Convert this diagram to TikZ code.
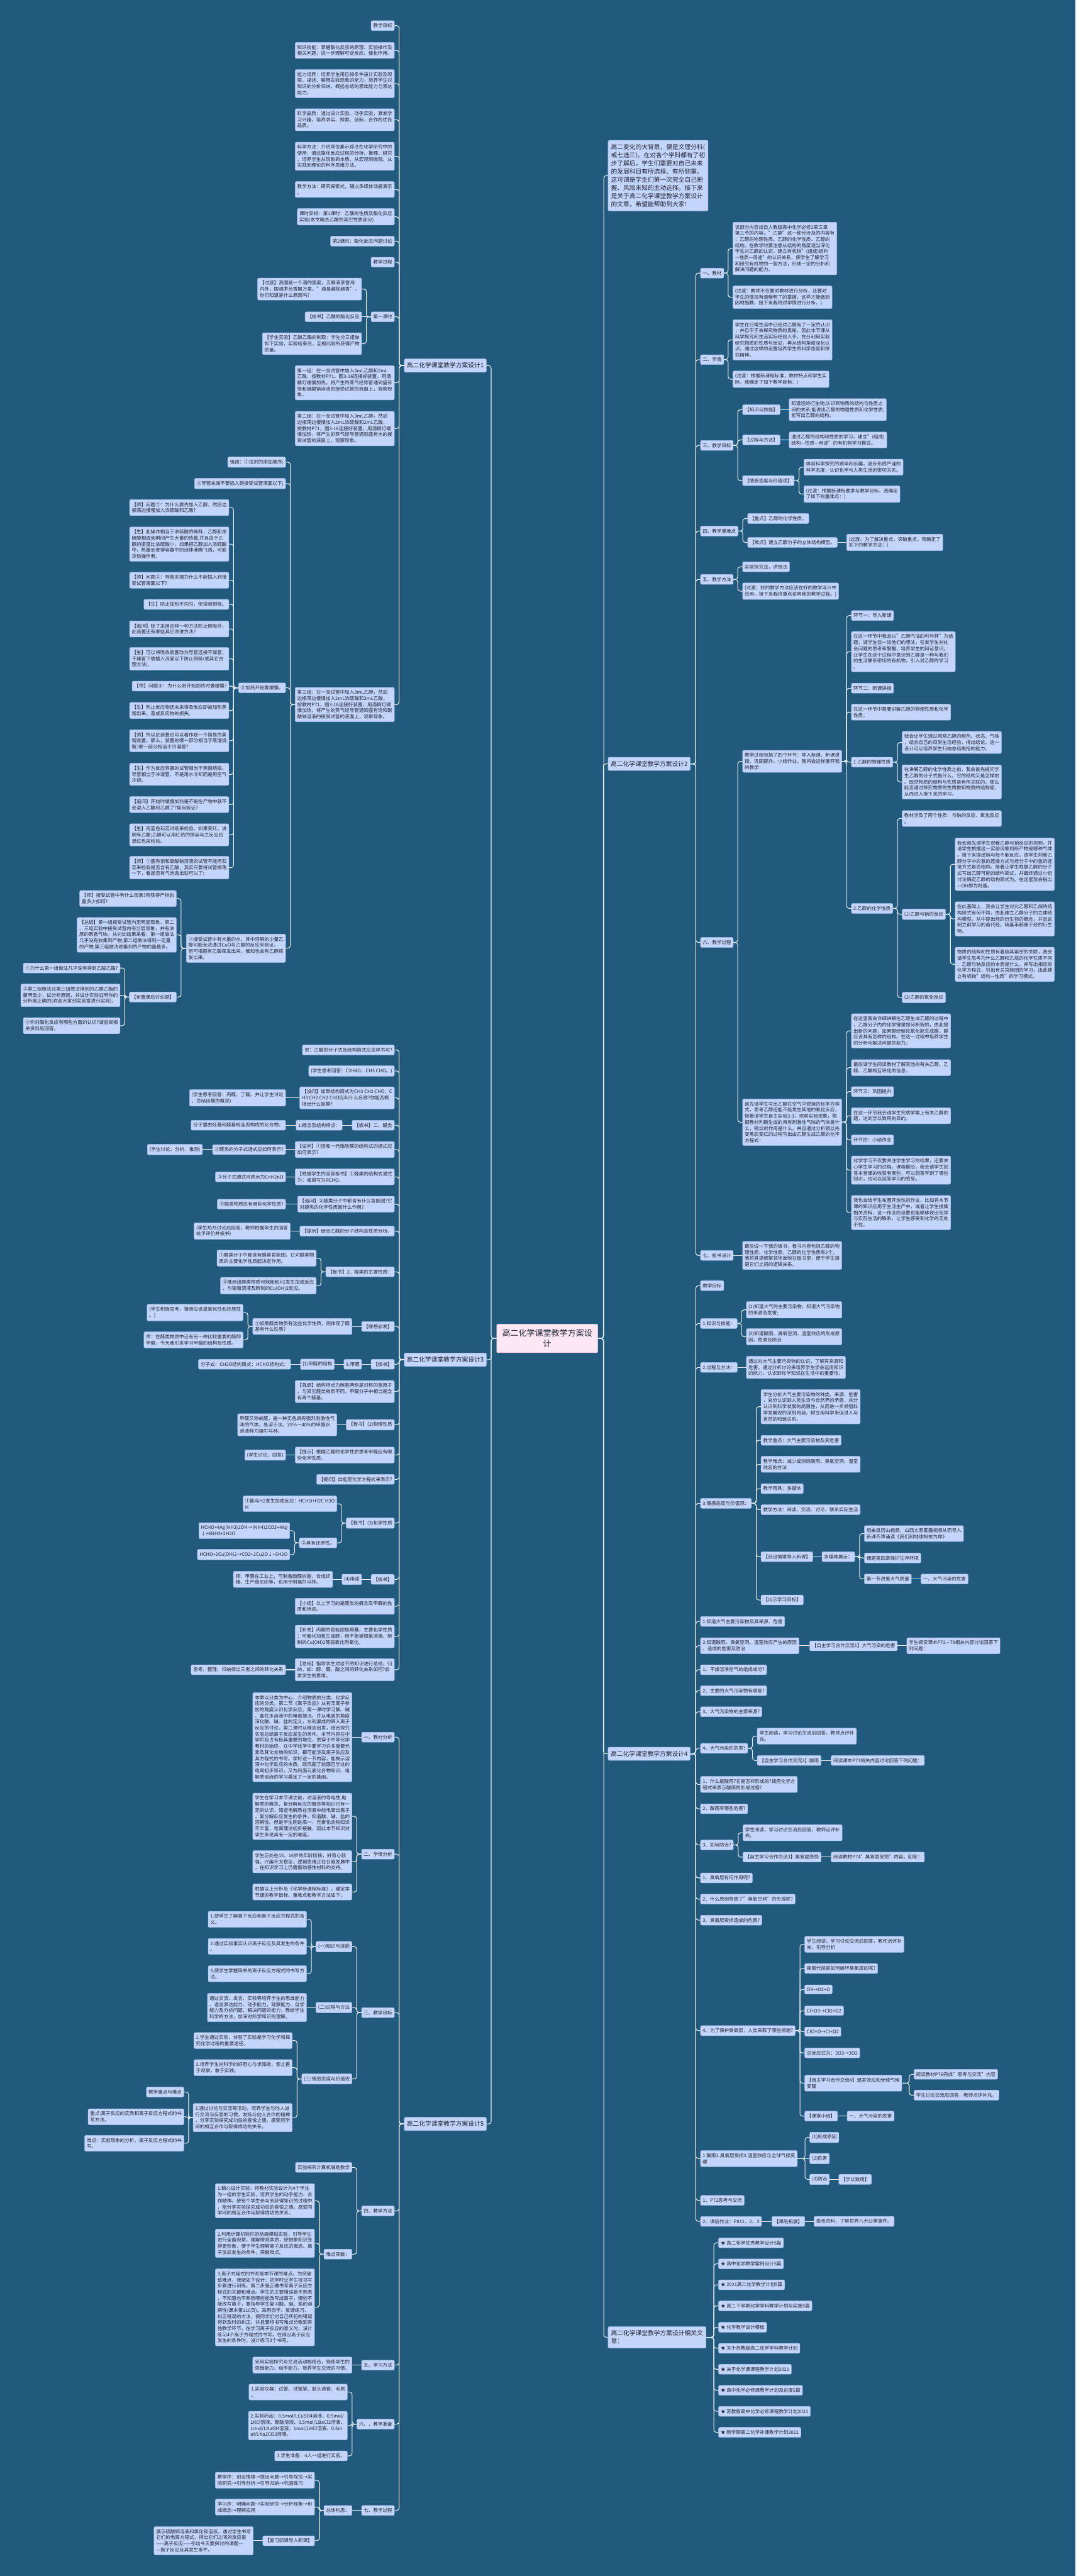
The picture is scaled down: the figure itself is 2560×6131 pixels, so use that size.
\documentclass[tikz,border=0pt]{standalone}
\usepackage{fontspec}
\setmainfont{Noto Sans CJK SC}
\definecolor{bg}{HTML}{225A7D}
\definecolor{boxf}{HTML}{C3D5FA}
\definecolor{boxd}{HTML}{A9C0F0}
\definecolor{rootf}{HTML}{FDE7F4}
\definecolor{rootd}{HTML}{EFC3DF}
\definecolor{lnc}{HTML}{E9EFF5}
\definecolor{txt}{HTML}{1F2233}
\newcommand\fs{\fontsize{11.3pt}{14.5pt}\selectfont}
\newcommand\fm{\fontsize{14.6pt}{19.4pt}\selectfont}
\newcommand\fr{\fontsize{19.5pt}{26pt}\selectfont}
\tikzset{
 bx/.style={draw=boxd, fill=boxf, line width=0.8pt, rounded corners=3pt, inner xsep=5pt, inner ysep=6.5pt, font=\fs, align=left, text=txt},
 bl/.style={bx, anchor=east},
 br/.style={bx, anchor=west},
 mb/.style={font=\fm, inner xsep=6pt, inner ysep=9pt},
 rb/.style={draw=rootd, fill=rootf, line width=0.8pt, rounded corners=3pt, font=\fr, align=center, text=txt, inner xsep=13pt, inner ysep=12pt},
 lk/.style={draw=lnc, line width=1.6pt, rounded corners=6pt},
}
\newcommand\cnL[2]{\draw[lk] (#1.west) -| ([xshift=11pt]#2.east) -- (#2.east);}
\newcommand\cnR[2]{\draw[lk] (#1.east) -| ([xshift=-11pt]#2.west) -- (#2.west);}
\newcommand\chL[2]{\draw[lk] (#1.west) -- (#2.east);}
\newcommand\chR[2]{\draw[lk] (#1.east) -- (#2.west);}
\begin{document}
\begin{tikzpicture}[x=1pt,y=-1pt]
\fill[bg] (0,0) rectangle (2560,6131);
\useasboundingbox (0,0) rectangle (2560,6131);
% root
\node[rb] (root) at (1302.5,3185.5) {高二化学课堂教学方案设\\计};
% ===== design 1 =====
\node[bl,mb] (d1) at (1158,870) {高二化学课堂教学方案设计1};
\node[bl] (a1) at (939,61) {教学目标};
\node[bl] (a2) at (939,120) {知识技能：掌握酯化反应的原理、实验操作及\\相关问题，进一步理解可逆反应、催化作用。};
\node[bl] (a3) at (939,199) {能力培养：培养学生用已知条件设计实验及观\\察、描述、解释实验现象的能力，培养学生对\\知识的分析归纳、概括总结的思维能力与表达\\能力。};
\node[bl] (a4) at (939,285) {科学品质：通过设计实验、动手实验，激发学\\习兴趣，培养求实、探索、创新、合作的优良\\品质。};
\node[bl] (a5) at (939,372) {科学方法：介绍同位素示踪法在化学研究中的\\使用，通过酯化反应过程的分析、推理、研究\\，培养学生从现象到本质、从宏观到微观、从\\实践到理论的科学思维方法。};
\node[bl] (a6) at (939,451) {教学方法：研究探索式，辅以多媒体动画演示\\。};
\node[bl] (a7) at (939,516) {课时安排：第1课时：乙酸的性质及酯化反应\\实验(本文略去乙酸的其它性质部分)};
\node[bl] (a8) at (939,574) {第2课时：酯化反应问题讨论};
\node[bl] (a9) at (939,624) {教学过程};
\node[bl] (a10) at (939,754) {第一课时};
\node[bl] (a10a) at (861,688) {【过渡】我国是一个酒的国度，五粮液享誉海\\内外，国酒茅台香飘万里。"酒是越陈越香"。\\你们知道是什么原因吗?};
\node[bl] (a10b) at (861,754) {【板书】乙酸的酯化反应};
\node[bl] (a10c) at (861,818) {【学生实验】乙酸乙酯的制取：学生分三组做\\如下实验，实验结束后，互相比较所获得产物\\的量。};
\node[bl] (a11) at (939,911) {第一组：在一支试管中加入3mL乙醇和2mL\\乙酸，按教材P71，图3-16连接好装置，用酒\\精灯缓慢加热，将产生的蒸气经导管通到盛有\\饱和碳酸钠溶液的接受试管的液面上，观察现\\象。};
\node[bl] (a12) at (939,1020) {第二组：在一支试管中加入3mL乙醇，然后\\边振荡边慢慢加入2mL浓硫酸和2mL乙酸，\\按教材P71，图3-16连接好装置，用酒精灯缓\\慢加热，将产生的蒸气经导管通到盛有水的接\\受试管的液面上，观察现象。};
\node[bl] (a13) at (939,1677) {第三组：在一支试管中加入3mL乙醇，然后\\边振荡边慢慢加入2mL浓硫酸和2mL乙酸，\\按教材P71，图3-16连接好装置，用酒精灯缓\\慢加热，将产生的蒸气经导管通到盛有饱和碳\\酸钠溶液的接受试管的液面上，观察现象。};
\node[bl] (a13a) at (680,1100) {强调：①试剂的添加顺序;};
\node[bl] (a13b) at (680,1151) {②导管末端不要插入到接受试管液面以下;};
\node[bl] (a13c) at (680,1637) {③加热开始要缓慢。};
\node[bl] (a13d) at (680,2257) {②接受试管中有大量的水，其中溶解的少量乙\\醇可能无法通过CuO与乙醇的反应来验证，\\但可根据有乙酸挥发出来，推知也会有乙醇挥\\发出来。};
\node[bl] (q1) at (545,1208) {【师】问题①：为什么要先加入乙醇，然后边\\振荡边慢慢加入浓硫酸和乙酸?};
\node[bl] (q2) at (545,1295) {【生】此操作相当于浓硫酸的稀释，乙醇和浓\\硫酸相混会瞬间产生大量的热量,并且由于乙\\醇的密度比浓硫酸小，如果把乙醇加入浓硫酸\\中，热量会使得容器中的液体沸腾飞溅，可能\\烫伤操作者。};
\node[bl] (q3) at (545,1381) {【师】问题②：导管末端为什么不能插入到接\\受试管液面以下?};
\node[bl] (q4) at (545,1438.5) {【生】防止加热不均匀，使溶液倒吸。};
\node[bl] (q5) at (545,1497) {【追问】除了采用这样一种方法防止倒吸外，\\此装置还有哪些其它改进方法?};
\node[bl] (q6) at (545,1568) {【生】可以将吸收装置改为导管连接干燥管，\\干燥管下端插入液面以下防止倒吸(或其它合\\理方法)。};
\node[bl] (q7) at (545,1633) {【师】问题③：为什么刚开始加热时要缓慢?};
\node[bl] (q8) at (545,1691) {【生】防止反应物还未来得及反应即被加热蒸\\馏出来，造成反应物的损失。};
\node[bl] (q9) at (545,1763) {【师】所以此装置也可以看作是一个简易的蒸\\馏装置，那么，装置的哪一部分相当于蒸馏烧\\瓶?哪一部分相当于冷凝管?};
\node[bl] (q10) at (545,1843) {【生】作为反应容器的试管相当于蒸馏烧瓶，\\导管相当于冷凝管，不是用水冷却而是用空气\\冷却。};
\node[bl] (q11) at (545,1915) {【追问】开始时缓慢加热是不是在产物中就不\\会混入乙酸和乙醇了?如何验证?};
\node[bl] (q12) at (545,1987) {【生】用蓝色石蕊试纸来检验，如果变红，说\\明有乙酸;乙醇可以用红热的铜丝与之反应后\\显红色来检验。};
\node[bl] (q13) at (545,2065) {【师】①盛有饱和碳酸钠溶液的试管不能用石\\蕊来检验是否含有乙酸，其实只要将试管振荡\\一下，看是否有气泡逸出就可以了;};
\node[bl] (r1) at (420,2138.5) {【师】接受试管中有什么现象?所获得产物的\\量多少如何?};
\node[bl] (r2) at (420,2225) {【总结】第一组接受试管内无明显现象，第二\\、三组实验中接受试管内有分层现象，并有浓\\厚的果香气味。从对比结果来看，第一组做法\\几乎没有收集到产物;第二组做法得到一定量\\的产物;第三组做法收集到的产物的量最多。};
\node[bl] (r3) at (420,2373) {【布置课后讨论题】};
\node[bl] (s1) at (286,2304) {①为什么第一组做法几乎没有得到乙酸乙酯?};
\node[bl] (s2) at (286,2369) {②第二组做法比第三组做法得到的乙酸乙酯的\\量明显少，试分析原因，并设计实验证明你的\\分析是正确的(欢迎大家到实验室进行实验)。};
\node[bl] (s3) at (286,2441) {③你对酯化反应有哪些方面的认识?请查阅相\\关资料后回答。};
% ===== design 3 =====
\node[bl,mb] (d3) at (1158,3236) {高二化学课堂教学方案设计3};
\node[bl] (b1) at (939,2499) {师：乙醛的分子式及结构简式应怎样书写?};
\node[bl] (b2) at (939,2549) {(学生思考回答：C2H4O，CH3 CHO。)};
\node[bl] (b3) at (939,2613) {【设问】如果结构简式为CH3 CH2 CHO，C\\H3 CH2 CH2 CHO应叫什么名称?你能否概\\括出什么是醛?};
\node[bl] (b3a) at (680,2613) {(学生思考回答：丙醛、丁醛。并让学生讨论\\、总结出醛的概念)};
\node[bl] (b4) at (939,2678) {【板书】二、醛类};
\node[bl] (b4a) at (815,2678) {1.概念及结构特点：};
\node[bl] (b4b) at (680,2678) {分子里由烃基和醛基相连而构成的化合物。};
\node[bl] (b5) at (939,2736) {【设问】①饱和一元脂肪醛的结构式的通式应\\如何表示?};
\node[bl] (b5a) at (680,2736) {②醛类的分子式通式应如何表示?};
\node[bl] (b5b) at (482,2736) {(学生讨论，分析，推测)};
\node[bl] (b6) at (939,2801) {【根据学生的回答板书】①醛类的结构式通式\\为：或简写为RCHO。};
\node[bl] (b6a) at (680,2801) {②分子式通式可表示为CnH2nO};
\node[bl] (b7) at (939,2866) {【追问】③醛类分子中都含有什么官能团?它\\对醛类的化学性质起什么作用?};
\node[bl] (b7a) at (680,2866) {④醛类物质应有哪些化学性质?};
\node[bl] (b8) at (939,2930) {【提示】结合乙醛的分子结构及性质分析。};
\node[bl] (b8a) at (691,2930) {(学生热烈讨论后回答，教师根据学生的回答\\给予评价并板书)};
\node[bl] (b9) at (939,3027) {【板书】2、醛类的主要性质：};
\node[bl] (b9a) at (753,2994.5) {①醛类分子中都含有醛基官能团，它对醛类物\\质的主要化学性质起决定作用。};
\node[bl] (b9b) at (753,3060) {②推测出醛类物质可能能和H2发生加成反应\\，与银氨溶液及新制的Cu(OH)2反应。};
\node[bl] (b10) at (939,3157) {【联想启发】};
\node[bl] (b10a) at (838,3157) {⑤如果醛类物质有这些化学性质，则体现了醛\\基有什么性质?};
\node[bl] (b10b) at (579,3124) {(学生积极思考，猜测应该是氧化性和还原性\\。)};
\node[bl] (b10c) at (579,3189) {师：在醛类物质中还有另一种比较重要的醛即\\甲醛，今天我们来学习甲醛的结构及性质。};
\node[bl] (b11) at (939,3247) {【板书】};
\node[bl] (b11a) at (861,3247) {3.甲醛};
\node[bl] (b11b) at (796,3247) {(1)甲醛的结构};
\node[bl] (b11c) at (692,3247) {分子式：CH2O结构简式：HCHO结构式：};
\node[bl] (b12) at (939,3312) {【强调】结构特点为羰基两侧是对称的氢原子\\，与其它醛类物质不同，甲醛分子中相当是含\\有两个醛基。};
\node[bl] (b13) at (939,3391) {【板书】(2)物理性质};
\node[bl] (b13a) at (802,3391) {甲醛又称蚁醛，是一种无色具有强烈刺激性气\\味的气体，易溶于水。35\%～40\%的甲醛水\\溶液称为福尔马林。};
\node[bl] (b14) at (939,3463) {【提示】根据乙醛的化学性质思考甲醛应有哪\\些化学性质。};
\node[bl] (b14a) at (680,3463) {(学生讨论、回答)};
\node[bl] (b15) at (939,3521) {【提问】谁能用化学方程式来表示?};
\node[bl] (b16) at (939,3625) {【板书】(3)化学性质};
\node[bl] (b16a) at (802,3579) {①能与H2发生加成反应：HCHO+H2C H3O\\H};
\node[bl] (b16b) at (802,3672) {②具有还原性。};
\node[bl] (b16c) at (690,3643) {HCHO+4Ag(NH3)2OH→(NH4)2CO3+4Ag\\↓+6NH3+2H2O};
\node[bl] (b16d) at (690,3700) {HCHO+2Cu(OH)2→CO2+2Cu2O↓+5H2O};
\node[bl] (b17) at (939,3759) {【板书】};
\node[bl] (b17a) at (861,3759) {(4)用途};
\node[bl] (b17b) at (792,3759) {师：甲醛在工业上，可制备酚醛树脂，合成纤\\维、生产维尼纶等，也用于制福尔马林。};
\node[bl] (b18) at (939,3823) {【小结】以上学习的是醛类的概念及甲醛的性\\质和用途。};
\node[bl] (b19) at (939,3895) {【补充】丙酮的官能团是羰基，主要化学性质\\：可催化加氢生成醇，但不能被银氨溶液、新\\制的Cu(OH)2等弱氧化剂氧化。};
\node[bl] (b20) at (939,3974) {【总结】指导学生对这节的知识进行总结，归\\纳，如：醇、醛、酸之间的转化关系如何?启\\发学生的思维。};
\node[bl] (b20a) at (680,3974) {思考、整理、归纳得出三者之间的转化关系};
% ===== design 5 =====
\node[bl,mb] (d5) at (1158,5055) {高二化学课堂教学方案设计5};
\node[bl] (e1) at (939,4134.5) {一、教材分析};
\node[bl] (e1a) at (838,4134.5) {本章以分类为中心，介绍物质的分类、化学反\\应的分类。第二节《离子反应》从有无离子参\\加的角度认识化学反应。第一课时学习酸、碱\\、盐在水溶液中的电离情况，并从电离的角度\\深化酸、碱、盐的定义，水到渠成的转入离子\\反应的讨论。第二课时从概念出发，结合探究\\实验总结离子反应发生的条件。本节内容在中\\学阶段占有极其重要的地位，贯穿于中学化学\\教材的始终。在中学化学中要学习许多重要元\\素及其化合物的知识，都可能涉及离子反应及\\其方程式的书写。学好这一节内容，能揭示溶\\液中化学反应的本质。既巩固了前面已学过的\\电离初步知识，又为后面元素化合物知识、电\\解质溶液的学习奠定了一定的基础。};
\node[bl] (e2) at (939,4413) {二、学情分析};
\node[bl] (e2a) at (838,4323) {学生在学习本节课之前，对溶液的导电性,电\\解质的概念、复分解反应的概念等知识已有一\\定的认识，知道电解质在溶液中能电离出离子\\，复分解反应发生的条件，知道酸、碱、盐的\\溶解性。但是学生刚进高一，元素化合物知识\\不丰富，电离理论初步接触，因此本节知识对\\学生来说具有一定的难度。};
\node[bl] (e2b) at (838,4431) {学生正处在15、16岁的年龄阶段，好奇心较\\强，兴趣不太稳定，逻辑思维正在日趋发展中\\，在知识学习上仍需借助感性材料的支持。};
\node[bl] (e2c) at (838,4503) {根据以上分析及《化学新课程标准》，确定本\\节课的教学目标、重难点和教学方法如下：};
\node[bl] (e3) at (939,4790) {三、教学目标};
\node[bl] (e3a) at (838,4633) {(一)知识与技能};
\node[bl] (e3a1) at (730,4568) {1.使学生了解离子反应和离子反应方程式的含\\义。};
\node[bl] (e3a2) at (730,4632.5) {2.通过实验事实认识离子反应及其发生的条件\\。};
\node[bl] (e3a3) at (730,4697.5) {3.使学生掌握简单的离子反应方程式的书写方\\法。};
\node[bl] (e3b) at (838,4778) {(二)过程与方法};
\node[bl] (e3b1) at (730,4778) {通过交流、发言、实验等培养学生的思维能力\\、语言表达能力、动手能力，观察能力、自学\\能力及分析问题、解决问题的能力，教给学生\\科学的方法，加深对所学知识的理解。};
\node[bl] (e3c) at (838,4948) {(三)情感态度与价值观};
\node[bl] (e3c1) at (696,4856.5) {1.学生通过实验，体验了实验是学习化学和探\\究化学过程的重要途径。};
\node[bl] (e3c2) at (696,4921) {2.培养学生对科学的好奇心与求知欲，使之善\\于观察，敢于实践。};
\node[bl] (e3c3) at (696,5040) {3.通过讨论与交流等活动，培养学生与他人进\\行交流与反思的习惯，发扬与他人合作的精神\\，分享实验探究成功后的喜悦之情。感受同学\\间的相互合作与取得成功的关系。};
\node[bl] (t1) at (438,4979) {教学重点与难点};
\node[bl] (t2) at (438,5038) {重点:离子反应的实质和离子反应方程式的书\\写方法。};
\node[bl] (t3) at (438,5101) {难点：实验现象的分析、离子反应方程式的书\\写。};
\node[bl] (e4) at (939,5262) {四、教学方法};
\node[bl] (e4a) at (838,5158.5) {实验探究计算机辅助教学};
\node[bl] (e4b) at (838,5365) {难点突破：};
\node[bl] (e4b1) at (749,5238) {1.精心设计实验：将教材实验设计为4个学生\\为一组的学生实验，培养学生的动手能力、合\\作精神。使每个学生参与到获得知识的过程中\\，能分享实验探究成功后的喜悦之情。感受同\\学间的相互合作与取得成功的关系。};
\node[bl] (e4b2) at (749,5339) {2.利用计算机软件的动画模拟实验，引导学生\\进行全面观察，理解微观本质，使抽象知识变\\得更形象，便于学生理解离子反应的概念、离\\子反应发生的条件，突破难点。};
\node[bl] (e4b3) at (749,5491.5) {3.离子方程式的书写是本节课的难点。为突破\\该难点，我做如下设计：初学时让学生按书写\\步骤进行训练。第二步是正确书写离子反应方\\程式的关键和难点。学生的主要错误是不熟悉\\，不知道也不熟悉哪些能改写成离子，哪些不\\能改写离子，要指导学生复习酸、碱、盐的溶\\解性(课本第110页)。采用自学、反馈练习、\\纠正错误的方法，使同学们对自己所犯的错误\\得到及时的纠正。并且要将书写难点分散到其\\他教学环节，在学习离子反应的意义时，设计\\练习4个离子方程式的书写。在得出离子反应\\发生的条件时，设计练习3个书写。};
\node[bl] (e5) at (939,5629) {五、学习方法};
\node[bl] (e5a) at (838,5629) {采用实验探究与交流活动相结合，锻炼学生的\\思维能力、动手能力，培养学生交流的习惯。};
\node[bl] (e6) at (939,5769.5) {六、、教学准备};
\node[bl] (e6a) at (827,5693) {1.实验仪器：试管、试管架、胶头滴管、毛刷\\。};
\node[bl] (e6b) at (827,5773) {2.实验药品：0.5mol/LCuSO4溶液、0.5mol/\\LKCl溶液、酚酞溶液、0.5mol/LBaCl2溶液、\\1mol/LNaOH溶液、1mol/LHCl溶液、0.5m\\ol/LNa2CO3溶液。};
\node[bl] (e6c) at (827,5845) {3.学生准备：4人一组进行实验。};
\node[bl] (e7) at (939,5975) {七、教学过程};
\node[bl] (e7a) at (838,5975) {总体构思：};
\node[bl] (e7a1) at (749,5903) {教学序：创设情境→提出问题→引导探究→实\\验研究→引导分析→引导归纳→巩固练习};
\node[bl] (e7a2) at (749,5967) {学习序：明确问题→实验研究→分析现象→形\\成概念→理解应用};
\node[bl] (e7a3) at (749,6047) {【复习旧课导入新课】};
\node[bl] (e7a3a) at (603,6047) {展示硫酸铜溶液和氯化钡溶液，通过学生书写\\它们的电离方程式，得出它们之间的反应是\\——离子反应——引出今天要探讨的课题—\\—离子反应及其发生条件。};
% ===== right side =====
\node[br,mb,inner ysep=9pt,inner xsep=7pt] (intro) at (1447,418) {高二变化的大背景，便是文理分科(\\或七选三)。在对各个学科都有了初\\步了解后，学生们需要对自己未来\\的发展科目有所选择、有所侧重。\\这可谓是学生们第一次完全自己把\\握、风险未知的主动选择。接下来\\是关于高二化学课堂教学方案设计\\的文章，希望能帮助到大家!};
% ===== design 2 =====
\node[br,mb] (d2) at (1447,1818) {高二化学课堂教学方案设计2};
\node[br] (c1) at (1667,650) {一、教材};
\node[br] (c1a) at (1744,591.5) {该部分内容出自人教版高中化学必修2第三章\\第三节的内容，"乙醇"这一部分涉及的内容有\\：乙醇的物理性质、乙醇的化学性质、乙醇的\\结构。在教学时要注意从结构的角度适当深化\\学生对乙醇的认识，建立有机物"(组成)结构\\—性质—用途"的认识关系，使学生了解学习\\和研究有机物的一般方法，形成一定的分析和\\解决问题的能力。};
\node[br] (c1b) at (1744,707.5) {(过渡：教师不仅要对教材进行分析，还要对\\学生的情况有清晰明了的掌握，这样才能做到\\因材施教，接下来我将对学情进行分析。)};
\node[br] (c2) at (1667,856) {二、学情};
\node[br] (c2a) at (1744,809) {学生在日常生活中已经对乙醇有了一定的认识\\，并且乐于去探究物质的奥秘，因此本节课从\\科学探究和生活实际经验入手，充分利用实验\\研究物质的性质与反应，再从结构角度深化认\\识。通过这样的设置培养学生的科学态度和探\\究精神。};
\node[br] (c2b) at (1744,902.6) {(过渡：根据新课程标准，教材特点和学生实\\际，我确定了如下教学目标：)};
\node[br] (c3) at (1667,1060) {三、教学目标};
\node[br] (c3a) at (1767,975) {【知识与技能】};
\node[br] (c3a1) at (1878,975) {知道烃的衍生物;认识到物质的结构与性质之\\间的关系;能说出乙醇的物理性质和化学性质;\\能写出乙醇的结构。};
\node[br] (c3b) at (1767,1047) {【过程与方法】};
\node[br] (c3b1) at (1878,1047) {通过乙醇的结构和性质的学习，建立"(组成)\\结构—性质—用途"的有机物学习模式。};
\node[br] (c3c) at (1767,1144) {【情感态度与价值观】};
\node[br] (c3c1) at (1913,1112) {体验科学探究的艰辛和乐趣，逐步形成严谨的\\科学态度，认识化学与人类生活的密切关系。};
\node[br] (c3c2) at (1913,1176) {(过渡：根据新课标要求与教学目标，我确定\\了如下的重难点：)};
\node[br] (c4) at (1667,1264) {四、教学重难点};
\node[br] (c4a) at (1779,1234) {【重点】乙醇的化学性质。};
\node[br] (c4b) at (1779,1291) {【难点】建立乙醇分子的立体结构模型。};
\node[br] (c4b1) at (2015,1291) {(过渡：为了解决重点，突破重点，我确定了\\如下的教学方法：)};
\node[br] (c5) at (1667,1379) {五、教学方法};
\node[br] (c5a) at (1767,1349) {实验探究法，讲授法};
\node[br] (c5b) at (1767,1407) {(过渡：好的教学方法应该在好的教学设计中\\应用，接下来我将重点说明我的教学过程。)};
\node[br] (c6) at (1667,2243) {六、教学过程};
\node[br] (c6a) at (1767,1812) {教学过程包括了四个环节：导入新课、新课讲\\授、巩固提升、小结作业。我将会这样展开我\\的教学：};
\node[br] (g1) at (2026,1465) {环节一：导入新课};
\node[br] (g2) at (2026,1551) {在这一环节中我会以"乙醇汽油的利与弊"为话\\题，请学生谈一谈他们的想法，引发学生对社\\会问题的思考和警醒，培养学生的辩证意识。\\让学生在这个过程中意识到乙醇是一种与我们\\的生活联系密切的有机物，引入对乙醇的学习\\。};
\node[br] (g3) at (2026,1638) {环节二：新课讲授};
\node[br] (g4) at (2026,1695) {在这一环节中需要讲解乙醇的物理性质和化学\\性质。};
\node[br] (g5) at (2026,1814) {1.乙醇的物理性质};
\node[br] (g5a) at (2147,1767) {我会让学生通过观察乙醇的颜色、状态、气味\\，结合自己的日常生活经验，得出结论。这一\\设计可以培养学生归纳总结概括的能力。};
\node[br] (g5b) at (2147,1861) {在讲解乙醇的化学性质之前，我会首先提问学\\生乙醇的分子式是什么，它的结构又是怎样的\\。既然物质的结构与性质是有所关联的，那么\\能否通过探究物质的性质推知物质的结构呢，\\从而进入接下来的学习。};
\node[br] (g6) at (2026,2162) {2.乙醇的化学性质};
\node[br] (g6a) at (2147,1948) {教材涉及了两个性质：与钠的反应、氧化反应\\。};
\node[br] (g6b) at (2147,2176) {(1)乙醇与钠的反应};
\node[br] (g6b1) at (2273,2057) {我会首先请学生观看乙醇与钠反应的视频，并\\请学生根据这一实验现象判断产物是哪种气体\\。接下来提出钠与烃不能反应，请学生判断乙\\醇分子中的氢的连接方式与烃分子中的氢的连\\接方式是否相同。接着让学生根据乙醇的分子\\式写出乙醇可能的结构简式，并最终通过小组\\讨论确定乙醇的结构简式为。在这里我会指出\\—OH即为羟基。};
\node[br] (g6b2) at (2273,2187) {在此基础上，我会让学生对比乙醇和乙烷的结\\构简式有何不同，由此建立乙醇分子的立体结\\构模型。从中提出烃的衍生物的概念，并且说\\明之前学习的卤代烃、硝基苯都属于烃的衍生\\物。};
\node[br] (g6b3) at (2273,2295) {物质的结构和性质有着极其紧密的关联，我会\\请学生思考为什么乙醇和乙烷的化学性质不同\\，乙醇与钠反应的本质是什么，并写出相应的\\化学方程式，引出有关官能团的学习，由此建\\立有机物"结构—性质"的学习模式。};
\node[br] (g6c) at (2147,2374) {(2)乙醇的氧化反应};
\node[br] (c6b) at (1767,2671) {首先请学生写出乙醇在空气中燃烧的化学方程\\式，思考乙醇还能不能发生其他的氧化反应，\\接着请学生自主实验3-3，观察实验现象，根\\据教材判断生成的具有刺激性气味的气体是什\\么，铜丝的作用是什么。并且通过分析铜丝先\\变黑后变红的过程写出由乙醇生成乙醛的化学\\方程式：};
\node[br] (h1) at (2026,2453.5) {在这里我会详细讲解在乙醇生成乙醛的过程中\\，乙醇分子内的化学键是如何断裂的，由此提\\出新的问题，如果醇经催化氧化能生成醛，醛\\应该具有怎样的结构。在这一过程中培养学生\\的分析与解决问题的能力。};
\node[br] (h2) at (2026,2541) {最后请学生阅读教材了解其他的有关乙醇、乙\\醛、乙酸相互转化的信息。};
\node[br] (h3) at (2026,2598) {环节三：巩固提升};
\node[br] (h4) at (2026,2655.5) {在这一环节我会请学生完成学案上有关乙醇的\\题，达到学以致用的目的。};
\node[br] (h5) at (2026,2713) {环节四：小结作业};
\node[br] (h6) at (2026,2785) {化学学习不仅要关注学生学习的结果，还要关\\心学生学习的过程，课程最后，我会请学生回\\答本堂课的收获有哪些，可以回答学到了哪些\\知识，也可以回答学习的感受。};
\node[br] (h7) at (2026,2886) {我也会给学生布置开放性的作业，比如将本节\\课的知识应用于生活生产中，或者让学生搜集\\相关资料，这一作业的设置也能够体现出化学\\与实际生活的联系，让学生感受到化学的无处\\不在。};
\node[br] (c7) at (1667,2988) {七、板书设计};
\node[br] (c7a) at (1767,2988) {最后说一下我的板书，板书内容包括乙醇的物\\理性质、化学性质，乙醇的化学性质有2个，\\我将其提纲挈领地反映在板书里，便于学生清\\楚它们之间的逻辑关系。};
% ===== design 4 =====
\node[br,mb] (d4) at (1447,4174) {高二化学课堂教学方案设计4};
\node[br] (f1) at (1667,3060) {教学目标};
\node[br] (f2) at (1667,3150) {1.知识与技能：};
\node[br] (f2a) at (1776,3117.5) {(1)知道大气的主要污染物，知道大气污染物\\的来源及危害;};
\node[br] (f2b) at (1776,3181.5) {(2)知道酸雨、臭氧空洞、温室效应的形成原\\因，危害及防治};
\node[br] (f3) at (1667,3254.5) {2.过程与方法：};
\node[br] (f3a) at (1776,3254.5) {通过对大气主要污染物的认识，了解其来源和\\危害，通过分析讨论来培养学生学会运用知识\\的能力，认识到化学知识在生活中的重要性。};
\node[br] (f4) at (1667,3578) {3.情感态度与价值观：};
\node[br] (f4a) at (1811,3348) {学生分析大气主要污染物的种类、来源、危害\\，充分认识到人类生活与自然界的矛盾，充分\\认识到科学发展的局限性，从而进一步领悟科\\学发展观的深刻内涵，树立用科学来促进人与\\自然的和谐关系。};
\node[br] (f4b) at (1811,3428) {教学重点：大气主要污染物及其危害};
\node[br] (f4c) at (1811,3485) {教学难点：减少或消除酸雨、臭氧空洞、温室\\效应的方法};
\node[br] (f4d) at (1811,3543) {教学用具：多媒体};
\node[br] (f4e) at (1811,3593) {教学方法：阅读、交流、讨论、联系实际生活};
\node[br] (f4f) at (1811,3705) {【创设情境导入新课】};
\node[br] (f4f1) at (1956,3705) {多媒体展示：};
\node[br] (f4f1a) at (2057,3650) {垣曲县历山视频，山西太原雾霾视频从而导入\\新课齐声诵读《我们和地球相依为命》};
\node[br] (f4f1b) at (2057,3708) {课题第四章保护生存环境};
\node[br] (f4f1c) at (2057,3758) {第一节改善大气质量};
\node[br] (f4f1c1) at (2192,3758) {一、大气污染的危害};
\node[br] (f4g) at (1811,3808) {【出示学习目标】};
\node[br] (f5) at (1667,3859) {1.知道大气主要污染物及其来源、危害};
\node[br] (f6) at (1667,3917) {2.知道酸雨、臭氧空洞、温室效应产生的原因\\、造成的危害及防治};
\node[br] (f6a) at (1927,3917) {【自主学习合作交流1】大气污染的危害};
\node[br] (f6b) at (2158,3917) {学生阅读课本P72—73相关内容讨论回答下\\列问题：};
\node[br] (f7) at (1667,3974) {1、干燥洁净空气的组成成分?};
\node[br] (f8) at (1667,4024) {2、主要的大气污染物有哪些?};
\node[br] (f9) at (1667,4074) {3、大气污染物的主要来源?};
\node[br] (f10) at (1667,4161) {4、大气污染的危害?};
\node[br] (f10a) at (1802,4132) {学生阅读，学习讨论交流后回答，教师点评补\\充。};
\node[br] (f10b) at (1802,4190) {【自主学习合作交流2】酸雨};
\node[br] (f10b1) at (1978,4190) {阅读课本P73相关内容讨论回答下列问题：};
\node[br] (f11) at (1667,4247) {1、什么是酸雨?它是怎样形成的?请用化学方\\程式来表示酸雨的形成过程?};
\node[br] (f12) at (1667,4305) {2、酸雨有哪些危害?};
\node[br] (f13) at (1667,4391) {3、如何防治?};
\node[br] (f13a) at (1768,4362) {学生阅读，学习讨论交流后回答，教师点评补\\充。};
\node[br] (f13b) at (1768,4420) {【自主学习合作交流3】臭氧层受损};
\node[br] (f13b1) at (1978,4420) {阅读教材P74"臭氧层受损"内容，回答：};
\node[br] (f14) at (1667,4469.5) {1、臭氧层有何作用呢?};
\node[br] (f15) at (1667,4520) {2、什么原因导致了"臭氧空洞"的形成呢?};
\node[br] (f16) at (1667,4570) {3、臭氧层受损造成的危害?};
\node[br] (f17) at (1667,4833) {4、为了保护臭氧层，人类采取了哪些措施?};
\node[br] (k1) at (1915,4627.5) {学生阅读，学习讨论交流后回答，教师点评补\\充、引导分析};
\node[br] (k2) at (1915,4685) {氟氯代烷是如何破坏臭氧层的呢?};
\node[br] (k3) at (1915,4735) {O3→O2+O};
\node[br] (k4) at (1915,4785.5) {Cl+O3→ClO+O2};
\node[br] (k5) at (1915,4835.5) {ClO+O→Cl+O2};
\node[br] (k6) at (1915,4886) {总反应式为：2O3→3O2};
\node[br] (k7) at (1915,4958) {【自主学习合作交流4】温室效应和全球气候\\变暖};
\node[br] (k7a) at (2175,4937) {阅读教材P76完成"思考与交流"内容};
\node[br] (k7b) at (2175,4986.5) {学生讨论交流后回答，教师点评补充。};
\node[br] (k8) at (1915,5036.5) {【课堂小结】};
\node[br] (k8a) at (2016,5036.5) {一、大气污染的危害};
\node[br] (f18) at (1667,5137.5) {1.酸雨2.臭氧层受损3.温室效应与全球气候变\\暖};
\node[br] (m1) at (1927,5087) {(1)形成原因};
\node[br] (m2) at (1927,5137.5) {(2)危害};
\node[br] (m3) at (1927,5187) {(3)防治};
\node[br] (m3a) at (1996,5187) {【学以致用】};
\node[br] (f19) at (1667,5237) {1、P72思考与交流};
\node[br] (f20) at (1667,5287) {2、课后作业：P811、2、3};
\node[br] (f20a) at (1837,5287) {【课后拓展】};
\node[br] (f20b) at (1937,5287) {查阅资料，了解世界八大公害事件。};
% ===== related =====
\node[br,mb,inner ysep=9pt,inner xsep=7pt] (rel) at (1447,5563) {高二化学课堂教学方案设计相关文\\章：};
\node[br] (w1) at (1710,5338) {★ 高二化学优秀教学设计5篇};
\node[br] (w2) at (1710,5388) {★ 高中化学教学案例设计5篇};
\node[br] (w3) at (1710,5438) {★ 2021高二化学教学计划5篇};
\node[br] (w4) at (1710,5488) {★ 高二下学期化学学科教学计划与实施5篇};
\node[br] (w5) at (1710,5539) {★ 化学教学设计模板};
\node[br] (w6) at (1710,5589) {★ 关于苏教版高二化学学科教学计划};
\node[br] (w7) at (1710,5639) {★ 关于化学课课程教学计划2021};
\node[br] (w8) at (1710,5689) {★ 高中化学必修课教学计划及进度5篇};
\node[br] (w9) at (1710,5739) {★ 苏教版高中化学必修课程教学计划2021};
\node[br] (w10) at (1710,5789) {★ 新学期高二化学补课教学计划2021};
% ===== connectors =====
\cnL{root}{d1}\cnL{root}{d3}\cnL{root}{d5}
\draw[lk] (root.east) -| ([xshift=-10pt]intro.west) -- (intro.west);
\cnR{root}{d2}\cnR{root}{d4}
\draw[lk] (root.east) -| ([xshift=-10pt]rel.west) -- (rel.west);
\foreach \c in {a1,a2,a3,a4,a5,a6,a7,a8,a9,a10,a11,a12,a13} {\cnL{d1}{\c}}
\cnL{a10}{a10a}\chL{a10}{a10b}\cnL{a10}{a10c}
\foreach \c in {a13a,a13b,a13c,a13d} {\cnL{a13}{\c}}
\foreach \c in {q1,q2,q3,q4,q5,q6,q7,q8,q9,q10,q11,q12,q13} {\cnL{a13c}{\c}}
\foreach \c in {r1,r2,r3} {\cnL{a13d}{\c}}
\foreach \c in {s1,s2,s3} {\cnL{r3}{\c}}
\foreach \c in {b1,b2,b3,b4,b5,b6,b7,b8,b9,b10,b11,b12,b13,b14,b15,b16,b17,b18,b19,b20} {\cnL{d3}{\c}}
\chL{b3}{b3a}\chL{b4}{b4a}\chL{b4a}{b4b}\chL{b5}{b5a}\chL{b5a}{b5b}\chL{b6}{b6a}\chL{b7}{b7a}\chL{b8}{b8a}
\cnL{b9}{b9a}\cnL{b9}{b9b}\chL{b10}{b10a}\cnL{b10a}{b10b}\cnL{b10a}{b10c}
\chL{b11}{b11a}\chL{b11a}{b11b}\chL{b11b}{b11c}\chL{b13}{b13a}\chL{b14}{b14a}
\cnL{b16}{b16a}\cnL{b16}{b16b}\cnL{b16b}{b16c}\cnL{b16b}{b16d}
\chL{b17}{b17a}\chL{b17a}{b17b}\chL{b20}{b20a}
\foreach \c in {e1,e2,e3,e4,e5,e6,e7} {\cnL{d5}{\c}}
\chL{e1}{e1a}
\foreach \c in {e2a,e2b,e2c} {\cnL{e2}{\c}}
\foreach \c in {e3a,e3b,e3c} {\cnL{e3}{\c}}
\foreach \c in {e3a1,e3a2,e3a3} {\cnL{e3a}{\c}}
\chL{e3b}{e3b1}
\foreach \c in {e3c1,e3c2,e3c3} {\cnL{e3c}{\c}}
\foreach \c in {t1,t2,t3} {\cnL{e3c3}{\c}}
\cnL{e4}{e4a}\cnL{e4}{e4b}
\foreach \c in {e4b1,e4b2,e4b3} {\cnL{e4b}{\c}}
\chL{e5}{e5a}
\foreach \c in {e6a,e6b,e6c} {\cnL{e6}{\c}}
\chL{e7}{e7a}
\foreach \c in {e7a1,e7a2,e7a3} {\cnL{e7a}{\c}}
\chL{e7a3}{e7a3a}
\foreach \c in {c1,c2,c3,c4,c5,c6,c7} {\cnR{d2}{\c}}
\cnR{c1}{c1a}\cnR{c1}{c1b}\cnR{c2}{c2a}\cnR{c2}{c2b}
\foreach \c in {c3a,c3b,c3c} {\cnR{c3}{\c}}
\chR{c3a}{c3a1}\chR{c3b}{c3b1}\cnR{c3c}{c3c1}\cnR{c3c}{c3c2}
\cnR{c4}{c4a}\cnR{c4}{c4b}\chR{c4b}{c4b1}\cnR{c5}{c5a}\cnR{c5}{c5b}
\cnR{c6}{c6a}\cnR{c6}{c6b}
\foreach \c in {g1,g2,g3,g4,g5,g6} {\cnR{c6a}{\c}}
\cnR{g5}{g5a}\cnR{g5}{g5b}\cnR{g6}{g6a}\cnR{g6}{g6b}\cnR{g6}{g6c}
\foreach \c in {g6b1,g6b2,g6b3} {\cnR{g6b}{\c}}
\foreach \c in {h1,h2,h3,h4,h5,h6,h7} {\cnR{c6b}{\c}}
\chR{c7}{c7a}
\foreach \c in {f1,f2,f3,f4,f5,f6,f7,f8,f9,f10,f11,f12,f13,f14,f15,f16,f17,f18,f19,f20} {\cnR{d4}{\c}}
\cnR{f2}{f2a}\cnR{f2}{f2b}\chR{f3}{f3a}
\foreach \c in {f4a,f4b,f4c,f4d,f4e,f4f,f4g} {\cnR{f4}{\c}}
\chR{f4f}{f4f1}
\foreach \c in {f4f1a,f4f1b,f4f1c} {\cnR{f4f1}{\c}}
\chR{f4f1c}{f4f1c1}
\chR{f6}{f6a}\chR{f6a}{f6b}
\cnR{f10}{f10a}\cnR{f10}{f10b}\chR{f10b}{f10b1}
\cnR{f13}{f13a}\cnR{f13}{f13b}\chR{f13b}{f13b1}
\foreach \c in {k1,k2,k3,k4,k5,k6,k7,k8} {\cnR{f17}{\c}}
\cnR{k7}{k7a}\cnR{k7}{k7b}\chR{k8}{k8a}
\cnR{f18}{m1}\chR{f18}{m2}\cnR{f18}{m3}\chR{m3}{m3a}
\chR{f20}{f20a}\chR{f20a}{f20b}
\foreach \c in {w1,w2,w3,w4,w5,w6,w7,w8,w9,w10} {\cnR{rel}{\c}}
\end{tikzpicture}
\end{document}
